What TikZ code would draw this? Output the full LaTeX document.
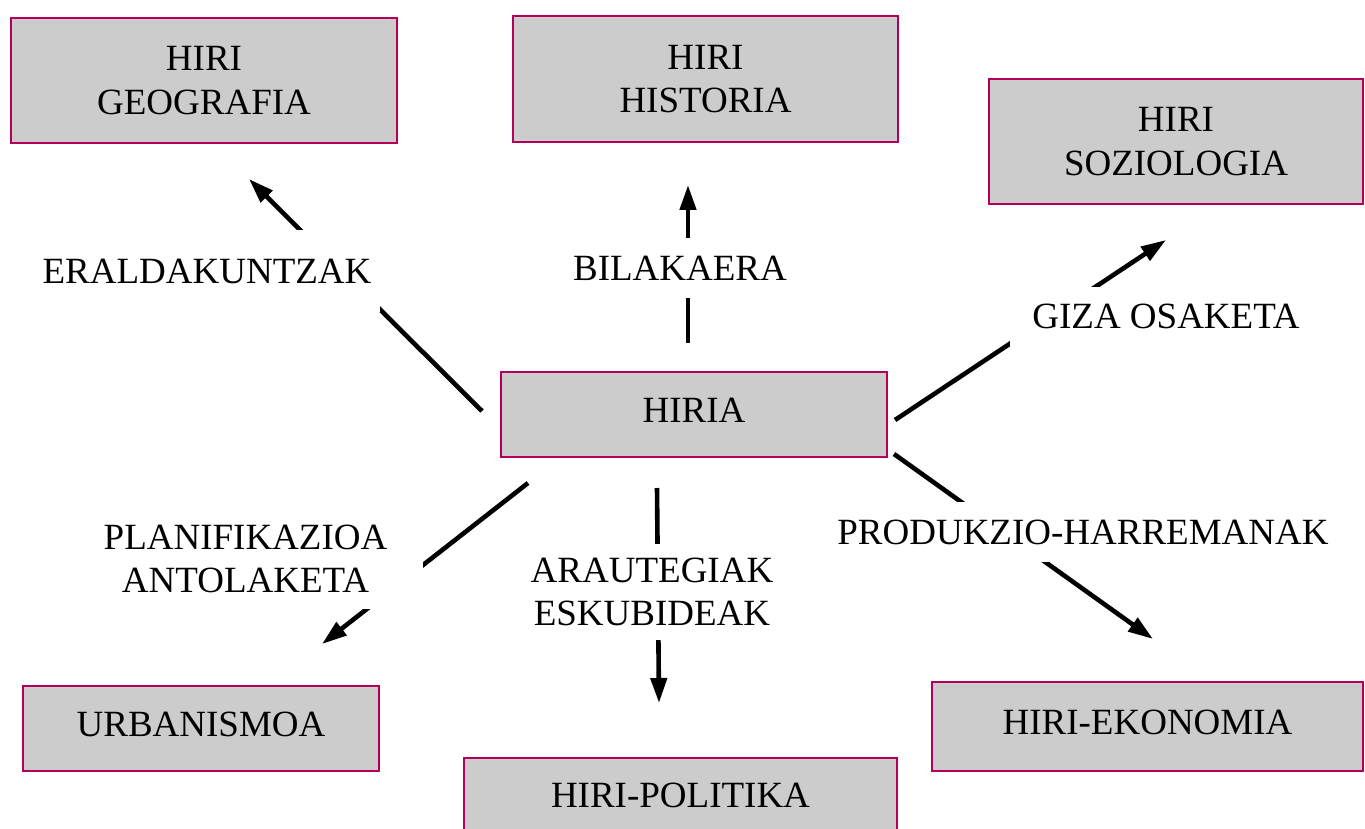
\documentclass[tikz,border=0pt]{standalone}
\usepackage{fontspec}
\setmainfont{Liberation Serif}
\usetikzlibrary{arrows.meta}
\definecolor{boxline}{RGB}{180,0,90}
\definecolor{boxfill}{RGB}{204,204,204}
\begin{document}
\begin{tikzpicture}[x=1pt,y=-1pt,
  every node/.style={font=\fontsize{37}{43.5}\selectfont, align=center, inner sep=0pt},
  topic/.style={draw=boxline, fill=boxfill, line width=2.8pt},
  lbl/.style={fill=white},
  conn/.style={line width=4.6pt},
  arr/.style={conn, -{Triangle[length=25pt,width=16pt]}}]
\useasboundingbox (0,0) rectangle (1365,829);
\clip (0,0) rectangle (1365,829);

% topic boxes
\node[topic, minimum width=386pt, minimum height=125pt] (geo) at (204,80.5) {HIRI\\GEOGRAFIA};
\node[topic, minimum width=385pt, minimum height=126pt] (his) at (705.5,79) {HIRI\\HISTORIA};
\node[topic, minimum width=374pt, minimum height=125pt] (soz) at (1176,141.5) {HIRI\\SOZIOLOGIA};
\node[topic, minimum width=386pt, minimum height=85pt, text depth=8pt] (hiria) at (694,414.5) {HIRIA};
\node[topic, minimum width=356pt, minimum height=85pt, text depth=8pt] (urb) at (201,728.5) {URBANISMOA};
\node[topic, minimum width=433pt, minimum height=82pt, text depth=8pt] (pol) at (680.5,799) {HIRI-POLITIKA};
\node[topic, minimum width=431pt, minimum height=89pt, text depth=8pt] (eko) at (1147.5,726.5) {HIRI-EKONOMIA};

% connector ends
\coordinate (s1) at (482,411);  \coordinate (t1) at (249,179);
\coordinate (s2) at (688,343);  \coordinate (t2) at (688,185);
\coordinate (s3) at (895,420);  \coordinate (t3) at (1166,240);
\coordinate (s4) at (894,454);  \coordinate (t4) at (1153,639);
\coordinate (s5) at (657,488);  \coordinate (t5) at (659,703);
\coordinate (s6) at (528,483);  \coordinate (t6) at (322,644);

\draw[arr] (s1) -- (t1);
\draw[arr] (s2) -- (t2);
\draw[arr] (s3) -- (t3);
\draw[arr] (s4) -- (t4);
\draw[arr] (s5) -- (t5);
\draw[arr] (s6) -- (t6);

% labels
\node[lbl, minimum width=346pt, minimum height=82pt] (l1) at (207,271) {ERALDAKUNTZAK};
\node[lbl, minimum width=240pt, minimum height=60pt] (l2) at (680,268) {BILAKAERA};
\node[lbl, minimum width=312pt, minimum height=59pt] (l3) at (1166,316.5) {GIZA OSAKETA};
\node[lbl, minimum width=520pt, minimum height=60pt] (l4) at (1083,532) {PRODUKZIO-HARREMANAK};
\node[lbl, minimum width=270pt, minimum height=96pt] (l5) at (652,592) {ARAUTEGIAK\\ESKUBIDEAK};
\node[lbl, minimum width=355pt, minimum height=100pt] (l6) at (245.5,559) {PLANIFIKAZIOA\\ANTOLAKETA};
\end{tikzpicture}
\end{document}
